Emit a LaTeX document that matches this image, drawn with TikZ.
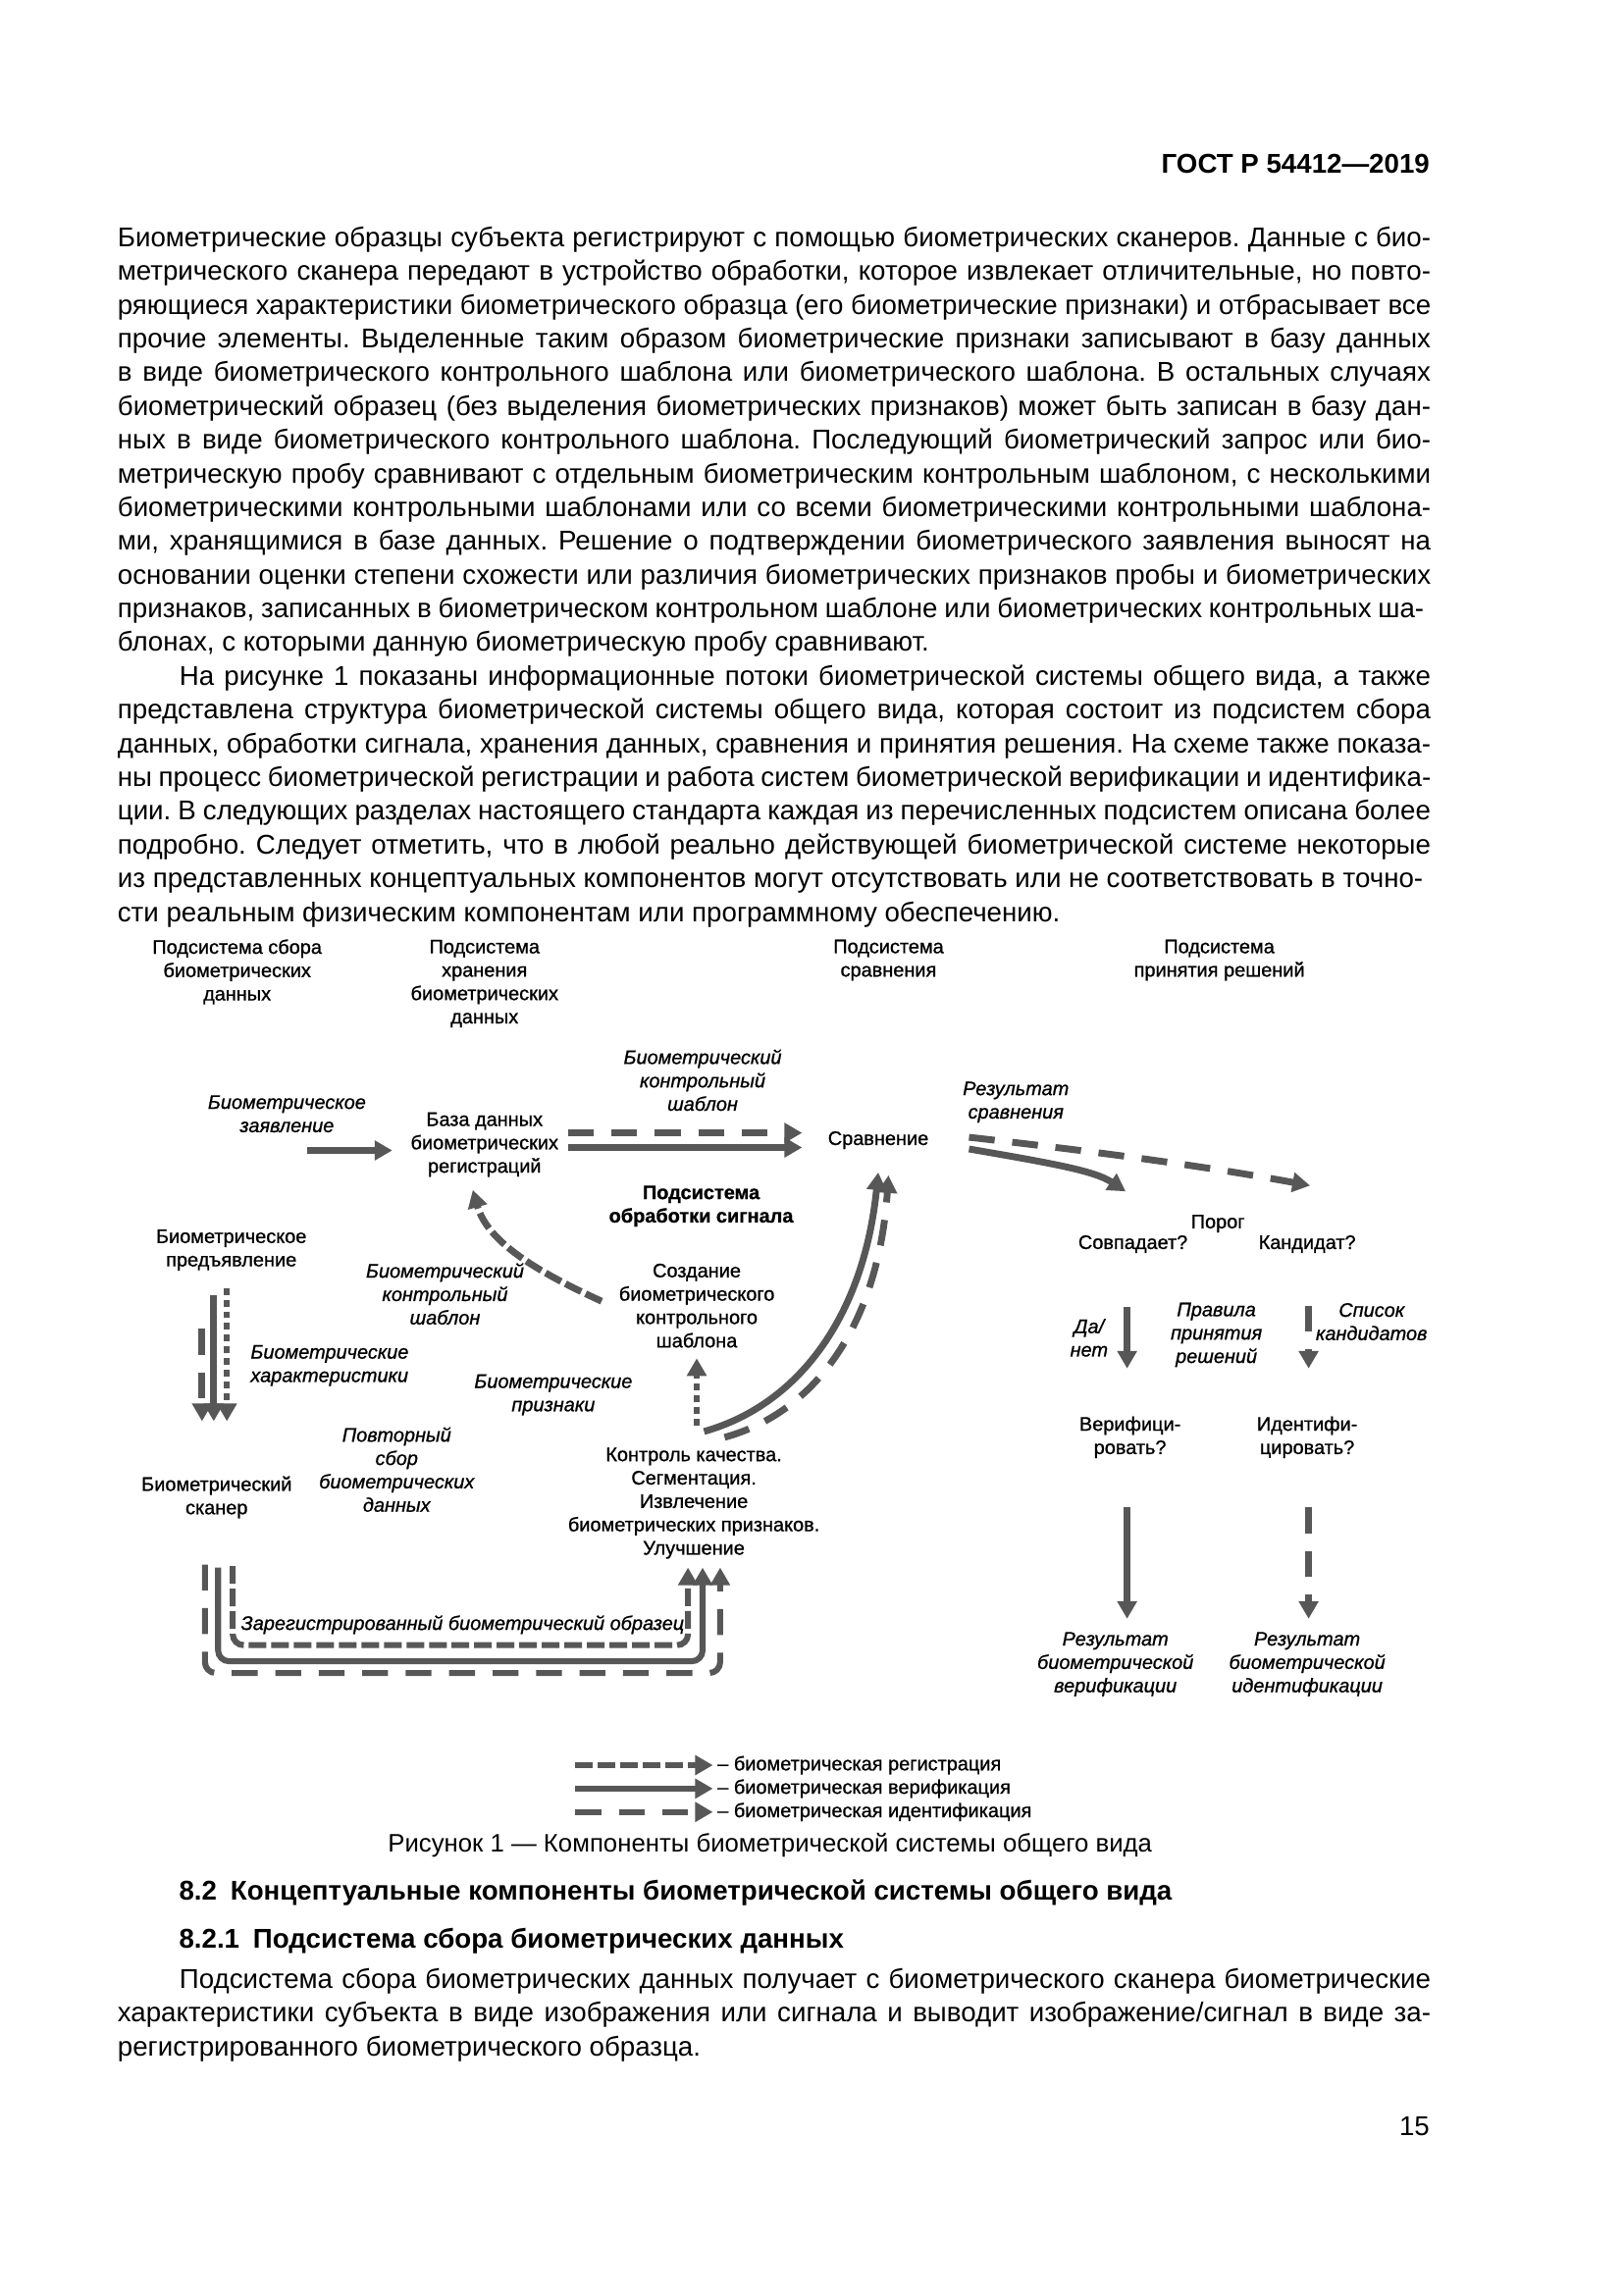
\documentclass[tikz,border=0pt]{standalone}
\usepackage{fontspec}
\setmainfont{Liberation Sans}
\newfontfamily\figfont{Liberation Sans}[FakeBold=0.9]
\usetikzlibrary{arrows.meta}
\definecolor{flowgray}{HTML}{575757}

\newlength{\colw}
\setlength{\colw}{16.986cm}
\newlength{\indentw}
\setlength{\indentw}{0.80cm}
\newcommand{\jline}[1]{\makebox[\colw][s]{#1}}
\newcommand{\jlinei}[1]{\hspace*{\indentw}\makebox[\dimexpr\colw-\indentw\relax][s]{#1}}

\begin{document}
\frenchspacing
\begin{tikzpicture}[
    x=0.018936cm, y=-0.018936cm,
    bodyline/.style={anchor=base west, inner sep=0pt, font=\fontsize{10}{12.4}\selectfont},
    figtext/.style={font=\figfont\fontsize{7.2}{8.6}\selectfont, align=center, inner sep=1pt},
    figitext/.style={figtext, font=\figfont\fontsize{7.2}{8.6}\selectfont\itshape},
    flow/.style={color=flowgray, line width=2.5pt, -{Triangle[length=6.5pt,width=7pt]}},
    ver/.style={flow},
    reg/.style={flow, dash pattern=on 6.5pt off 1.8pt},
    regfine/.style={flow, line width=2.2pt, dash pattern=on 2.5pt off 1.8pt},
    idf/.style={flow, dash pattern=on 9.5pt off 6.5pt}
  ]

  \path[use as bounding box, fill=white] (0,0) rectangle (1109,1568);

  % page head
  \node[anchor=base east, inner sep=0pt, font=\bfseries\fontsize{10}{12}\selectfont] (gost) at (977,118) {ГОСТ Р 54412—2019};

  % text above the figure
  \foreach \txt [count=\i from 0] in {
    {Биометрические образцы субъекта регистрируют с помощью биометрических сканеров. Данные с био-},
    {метрического сканера передают в устройство обработки, которое извлекает отличительные, но повто-},
    {ряющиеся характеристики биометрического образца (его биометрические признаки) и отбрасывает все},
    {прочие элементы. Выделенные таким образом биометрические признаки записывают в базу данных},
    {в виде биометрического контрольного шаблона или биометрического шаблона. В остальных случаях},
    {биометрический образец (без выделения биометрических признаков) может быть записан в базу дан-},
    {ных в виде биометрического контрольного шаблона. Последующий биометрический запрос или био-},
    {метрическую пробу сравнивают с отдельным биометрическим контрольным шаблоном, с несколькими},
    {биометрическими контрольными шаблонами или со всеми биометрическими контрольными шаблона-},
    {ми, хранящимися в базе данных. Решение о подтверждении биометрического заявления выносят на},
    {основании оценки степени схожести или различия биометрических признаков пробы и биометрических},
    {признаков, записанных в биометрическом контрольном шаблоне или биометрических контрольных ша-}
  }
    \node[bodyline] (para_a\i) at (80,168.5+23.05*\i) {\jline{\txt}};
  \node[bodyline] (para_a12) at (80,168.5+23.05*12) {блонах, с которыми данную биометрическую пробу сравнивают.};
  \node[bodyline] (para_b13) at (80,168.5+23.05*13) {\jlinei{На рисунке 1 показаны информационные потоки биометрической системы общего вида, а также}};
  \foreach \txt [count=\i from 14] in {
    {представлена структура биометрической системы общего вида, которая состоит из подсистем сбора},
    {данных, обработки сигнала, хранения данных, сравнения и принятия решения. На схеме также показа-},
    {ны процесс биометрической регистрации и работа систем биометрической верификации и идентифика-},
    {ции. В следующих разделах настоящего стандарта каждая из перечисленных подсистем описана более},
    {подробно. Следует отметить, что в любой реально действующей биометрической системе некоторые},
    {из представленных концептуальных компонентов могут отсутствовать или не соответствовать в точно-}
  }
    \node[bodyline] (para_b\i) at (80,168.5+23.05*\i) {\jline{\txt}};
  \node[bodyline] (para_b20) at (80,168.5+23.05*20) {сти реальным физическим компонентам или программному обеспечению.};

  % subsystem headings
  \node[figtext] (head_acq) at (162,664) {Подсистема сбора\\биометрических\\данных};
  \node[figtext] (head_store) at (331,672) {Подсистема\\хранения\\биометрических\\данных};
  \node[figtext] (head_cmp) at (607,656) {Подсистема\\сравнения};
  \node[figtext] (head_dec) at (833,656) {Подсистема\\принятия решений};

  % storage and comparison
  \node[figitext] (claim) at (196,761) {Биометрическое\\заявление};
  \node[figtext] (db) at (331,782) {База данных\\биометрических\\регистраций};
  \node[figitext] (tpl_top) at (480,738) {Биометрический\\контрольный\\шаблон};
  \node[figtext] (cmp) at (600,779) {Сравнение};
  \node[figtext, font=\figfont\bfseries\fontsize{7.2}{8.6}\selectfont] (sigproc) at (479,824) {Подсистема\\обработки сигнала};
  \node[figitext] (cmp_res) at (694,753) {Результат\\сравнения};

  % decision
  \node[figtext] (thr) at (832,836) {Порог};
  \node[figtext] (match) at (774,850) {Совпадает?};
  \node[figtext] (cand) at (893,850) {Кандидат?};
  \node[figitext] (yesno) at (744,914) {Да/\\нет};
  \node[figitext] (rules) at (831,912) {Правила\\принятия\\решений};
  \node[figitext] (cand_list) at (937,903) {Список\\кандидатов};
  \node[figtext] (verify) at (772,982) {Верифици-\\ровать?};
  \node[figtext] (ident) at (893,982) {Идентифи-\\цировать?};
  \node[figitext] (res_verif) at (762,1137) {Результат\\биометрической\\верификации};
  \node[figitext] (res_ident) at (893,1137) {Результат\\биометрической\\идентификации};

  % acquisition and signal processing
  \node[figtext] (present) at (158,854) {Биометрическое\\предъявление};
  \node[figitext, anchor=west, align=left] (chars) at (169,933) {Биометрические\\характеристики};
  \node[figitext] (tpl_mid) at (304,884) {Биометрический\\контрольный\\шаблон};
  \node[figtext] (create) at (476,892) {Создание\\биометрического\\контрольного\\шаблона};
  \node[figitext] (feat) at (378,953) {Биометрические\\признаки};
  \node[figitext] (recap) at (271,1004) {Повторный\\сбор\\биометрических\\данных};
  \node[figtext] (scanner) at (148,1023) {Биометрический\\сканер};
  \node[figtext] (qc) at (474,1027) {Контроль качества.\\Сегментация.\\Извлечение\\биометрических признаков.\\Улучшение};
  \node[figitext] (sample) at (316,1110) {Зарегистрированный биометрический образец};

  \coordinate (claim_a) at (210,786);
  \coordinate (claim_b) at (268,786);
  \coordinate (db_idf) at (388,774);
  \coordinate (cmp_idf) at (548,774);
  \coordinate (db_ver) at (388,784);
  \coordinate (cmp_ver) at (548,784);
  \coordinate (res_ver) at (662,785);
  \coordinate (match_in) at (769,814);
  \coordinate (res_idf) at (662,777);
  \coordinate (cand_in) at (895,810);
  \coordinate (create_out) at (411,889);
  \coordinate (db_in) at (323,813);
  \coordinate (qc_up) at (476,974);
  \coordinate (create_in) at (476,928);
  \coordinate (qc_ver) at (481,978);
  \coordinate (cmp_in_ver) at (600,801);
  \coordinate (qc_idf) at (495,982);
  \coordinate (cmp_in_idf) at (607,803);

  \coordinate (pres_idf) at (138,908);
  \coordinate (scan_idf) at (138,971);
  \coordinate (pres_ver) at (146,885);
  \coordinate (scan_ver) at (146,971);
  \coordinate (pres_reg) at (155,880);
  \coordinate (scan_reg) at (155,971);

  \coordinate (loop_reg_a) at (159,1070);
  \coordinate (loop_reg_mid) at (315,1124);
  \coordinate (loop_reg_b) at (470,1071);
  \coordinate (loop_ver_a) at (149,1071);
  \coordinate (loop_ver_mid) at (315,1135);
  \coordinate (loop_ver_b) at (480,1071);
  \coordinate (loop_idf_a) at (140,1069);
  \coordinate (loop_idf_mid) at (315,1143);
  \coordinate (loop_idf_b) at (492,1071);

  \coordinate (match_out) at (770,893);
  \coordinate (verify_in) at (770,935);
  \coordinate (cand_out) at (894,892);
  \coordinate (ident_in) at (894,935);
  \coordinate (verify_out) at (770,1030);
  \coordinate (res_verif_in) at (770,1106);
  \coordinate (ident_out) at (894,1030);
  \coordinate (res_ident_in) at (894,1106);

  % flows
  \draw[ver] (claim_a) -- (claim_b);
  \draw[idf] (db_idf) -- (cmp_idf);
  \draw[ver] (db_ver) -- (cmp_ver);
  \draw[ver] (res_ver) .. controls (720,795) and (748,800) .. (match_in);
  \draw[idf] (res_idf) .. controls (760,788) and (830,798) .. (cand_in);
  \draw[reg] (create_out) .. controls (365,868) and (333,848) .. (db_in);
  \draw[regfine] (qc_up) -- (create_in);
  \draw[ver] (qc_ver) .. controls (545,960) and (590,900) .. (cmp_in_ver);
  \draw[idf] (qc_idf) .. controls (557,965) and (600,905) .. (cmp_in_idf);

  \draw[idf] (pres_idf) -- (scan_idf);
  \draw[ver] (pres_ver) -- (scan_ver);
  \draw[regfine] (pres_reg) -- (scan_reg);

  \draw[reg, line width=2.2pt, rounded corners=4pt] (loop_reg_a) |- (loop_reg_mid) -| (loop_reg_b);
  \draw[ver, line width=2.2pt, rounded corners=4pt] (loop_ver_a) |- (loop_ver_mid) -| (loop_ver_b);
  \draw[idf, line width=2.2pt, rounded corners=4pt] (loop_idf_a) |- (loop_idf_mid) -| (loop_idf_b);

  \draw[ver] (match_out) -- (verify_in);
  \draw[idf] (cand_out) -- (ident_in);
  \draw[ver] (verify_out) -- (res_verif_in);
  \draw[idf] (ident_out) -- (res_ident_in);

  % legend
  \coordinate (leg_reg_a) at (393,1206);
  \coordinate (leg_reg_b) at (487,1206);
  \coordinate (leg_ver_a) at (393,1222);
  \coordinate (leg_ver_b) at (487,1222);
  \coordinate (leg_idf_a) at (393,1238);
  \coordinate (leg_idf_b) at (487,1238);
  \draw[reg, line width=2.2pt] (leg_reg_a) -- (leg_reg_b);
  \draw[ver, line width=2.2pt] (leg_ver_a) -- (leg_ver_b);
  \draw[idf, line width=2.2pt] (leg_idf_a) -- (leg_idf_b);
  \node[figtext, anchor=west] (leg_reg_txt) at (488,1206) {– биометрическая регистрация};
  \node[figtext, anchor=west] (leg_ver_txt) at (488,1222) {– биометрическая верификация};
  \node[figtext, anchor=west] (leg_idf_txt) at (488,1238) {– биометрическая идентификация};

  \node[anchor=base, inner sep=0pt, font=\fontsize{9.3}{11}\selectfont] (caption) at (526,1265) {Рисунок 1 — Компоненты биометрической системы общего вида};

  % text below the figure
  \node[bodyline, font=\bfseries\fontsize{10}{12}\selectfont] (sec_a) at (122,1298) {8.2\hspace{0.5em}Концептуальные компоненты биометрической системы общего вида};
  \node[bodyline, font=\bfseries\fontsize{10}{12}\selectfont] (sec_b) at (122,1331) {8.2.1\hspace{0.5em}Подсистема сбора биометрических данных};
  \node[bodyline] (para_c0) at (80,1358.5) {\jlinei{Подсистема сбора биометрических данных получает с биометрического сканера биометрические}};
  \node[bodyline] (para_c1) at (80,1381.5) {\jline{характеристики субъекта в виде изображения или сигнала и выводит изображение/сигнал в виде за-}};
  \node[bodyline] (para_c2) at (80,1404.5) {регистрированного биометрического образца.};
  \node[anchor=base east, inner sep=0pt, font=\fontsize{10}{12}\selectfont] (page_no) at (977,1459) {15};

\end{tikzpicture}
\end{document}
